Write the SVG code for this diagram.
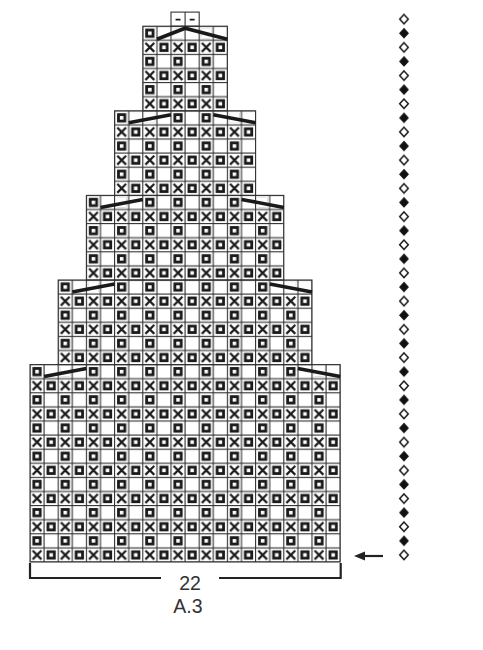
<svg xmlns="http://www.w3.org/2000/svg" xmlns:xlink="http://www.w3.org/1999/xlink" width="483" height="650" viewBox="0 0 483 650">
<style>
.sq{fill:none;stroke:#1a1a1a;stroke-width:2.8}
.x{fill:none;stroke:#1a1a1a;stroke-width:2.2}
.g{fill:#333}
.outline{fill:none;stroke:#333;stroke-width:1.1}
.hide{fill:#fff}
.dec{fill:none;stroke:#1a1a1a;stroke-width:3.6;stroke-linejoin:miter}
.dash{stroke:#1a1a1a;stroke-width:1.8}
.dh{fill:#fff;stroke:#1a1a1a;stroke-width:1.5}
.df{fill:#111;stroke:#111;stroke-width:1}
.ln{fill:none;stroke:#222;stroke-width:2.2}
.t{font-family:"Liberation Sans",Arial,sans-serif;font-size:19.5px;fill:#333;text-anchor:middle}
</style>
<defs>
<pattern id="cells" patternUnits="userSpaceOnUse" x="29.45" y="533.25" width="28.2" height="28.2">
<rect width="28.2" height="28.2" fill="#fff"/>
<rect x="4.4" y="4.4" width="6.4" height="6.4" class="sq"/>
<path d="M3.2,17.3 L12,26.1 M12,17.3 L3.2,26.1" class="x"/>
<rect x="18.5" y="18.5" width="6.4" height="6.4" class="sq"/>
<rect x="0" y="0" width="1.1" height="28.2" class="g"/>
<rect x="14.1" y="0" width="1.1" height="28.2" class="g"/>
<rect x="0" y="0" width="28.2" height="1.1" class="g"/>
<rect x="0" y="14.1" width="28.2" height="1.1" class="g"/>
</pattern>
<pattern id="diam" patternUnits="userSpaceOnUse" x="398" y="533.8" width="12" height="28.2">
<polygon points="6,2.35 10.3,7.05 6,11.75 1.7,7.05" class="df"/>
<polygon points="6,16.45 10.3,21.15 6,25.85 1.7,21.15" class="dh"/>
</pattern>
</defs>

<g id="section-1-bottom">
<rect x="30" y="364.6" width="310.2" height="197.4" fill="url(#cells)"/>
<rect x="30" y="364.6" width="310.2" height="197.4" class="outline"/>
<rect x="60.25" y="366.65" width="10" height="10" class="hide"/>
<rect x="314.05" y="366.65" width="10" height="10" class="hide"/>
</g>
<g id="section-2">
<rect x="58.2" y="280" width="253.8" height="84.6" fill="url(#cells)"/>
<rect x="58.2" y="280" width="253.8" height="84.6" class="outline"/>
<rect x="88.45" y="282.05" width="10" height="10" class="hide"/>
<rect x="285.85" y="282.05" width="10" height="10" class="hide"/>
</g>
<g id="section-3">
<rect x="86.4" y="195.4" width="197.4" height="84.6" fill="url(#cells)"/>
<rect x="86.4" y="195.4" width="197.4" height="84.6" class="outline"/>
<rect x="116.65" y="197.45" width="10" height="10" class="hide"/>
<rect x="257.65" y="197.45" width="10" height="10" class="hide"/>
</g>
<g id="section-4">
<rect x="114.6" y="110.8" width="141" height="84.6" fill="url(#cells)"/>
<rect x="114.6" y="110.8" width="141" height="84.6" class="outline"/>
<rect x="144.85" y="112.85" width="10" height="10" class="hide"/>
<rect x="229.45" y="112.85" width="10" height="10" class="hide"/>
</g>
<g id="section-5-top">
<rect x="142.8" y="26.2" width="84.6" height="84.6" fill="url(#cells)"/>
<rect x="142.8" y="26.2" width="84.6" height="84.6" class="outline"/>
<rect x="173.05" y="28.25" width="10" height="10" class="hide"/>
<rect x="201.25" y="28.25" width="10" height="10" class="hide"/>
</g>
<g id="top-cells">
<rect x="171" y="12.1" width="28.2" height="14.1" fill="#fff" class="outline"/>
<path d="M185.1,12.1 V26.2" class="outline"/>
<path d="M175.6,19.6 H180.5 M189.7,19.6 H194.6" class="dash"/>
</g>

<g id="decreases">
<path d="M44.1,376.6 L86.4,368.6 M297.9,368.6 L340.2,376.6" class="dec"/>
<path d="M72.3,292 L114.6,284 M269.7,284 L312,292" class="dec"/>
<path d="M100.5,207.4 L142.8,199.4 M241.5,199.4 L283.8,207.4" class="dec"/>
<path d="M128.7,122.8 L171,114.8 M213.3,114.8 L255.6,122.8" class="dec"/>
<path d="M156.9,39.2 L185.1,28.2 L227.4,39.2" class="dec"/>
</g>

<g id="diamonds">
<rect x="398" y="12.1" width="12" height="549.9" fill="url(#diam)"/>
</g>

<g id="connectors">
<path d="M383,556 H362" class="ln" stroke-width="1.8"/>
<polygon points="354,556 365,551.5 365,560.5" fill="#222"/>
<path d="M30,563 V578 H161 M219,578 H340.7 V563" class="ln"/>
</g>

<text x="190" y="590" class="t">22</text>
<text x="188" y="613" class="t">A.3</text>
</svg>
